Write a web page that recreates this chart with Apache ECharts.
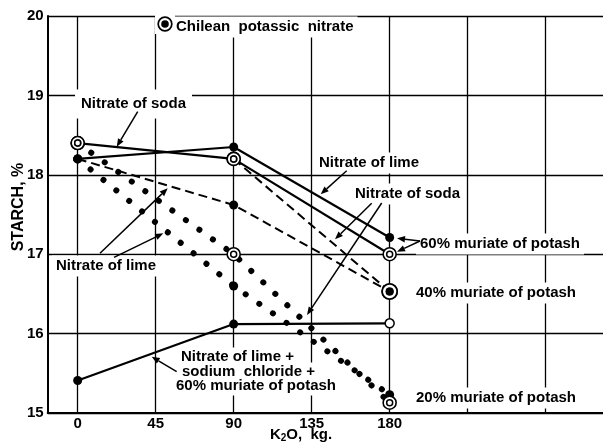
<!DOCTYPE html>
<html>
<head>
<meta charset="utf-8">
<script src="https://cdn.jsdelivr.net/npm/echarts@6/dist/echarts.min.js"></script>
<style>
  html, body { margin: 0; padding: 0; background: #fff; }
  #chart { width: 603px; height: 442px; }
</style>
</head>
<body>
<div id="chart"></div>
<script>
// K2O applied, kg per unit area
const k2oRates = [0, 90, 180];
const xTickLabels = [0, 45, 90, 135, 180];
const xGridValues = [0, 45, 90, 135, 180, 225, 270];
const yTickLabels = [15, 16, 17, 18, 19, 20];

// Starch, %  (solid lines: 60% muriate of potash)
const sodaMuriate60 = [18.4, 18.2, 17.0];
const limeMuriate60 = [18.2, 18.35, 17.21];
// dashed lines: 40% muriate of potash
const sodaMuriate40 = [null, 18.2, 16.53];
const limeMuriate40 = [18.2, 17.62, 16.53];
// dotted lines: 20% muriate of potash
const sodaMuriate20 = [18.4, 17.0, 15.13];
const limeMuriate20 = [18.2, 16.6, 15.23];
// nitrate of lime + sodium chloride + 60% muriate of potash
const limeSaltMuriate60 = [15.41, 16.12, 16.13];

const FONT = '"Liberation Sans", Arial, sans-serif';
const INK = '#000';

const SOLID = { color: INK, type: 'solid', width: 2.2 };
const DASHED = { color: INK, type: [9, 5], width: 2 };
const DOTTED = { color: INK, type: [0.1, 16.5], width: 6, cap: 'round' };

// each curve: values, line style and marker kind per point
const curves = [
  { name: 'Nitrate of soda 20%', values: sodaMuriate20, line: DOTTED, marks: ['ring', 'ring', 'ring'] },
  { name: 'Nitrate of lime 20%', values: limeMuriate20, line: DOTTED, marks: ['dot', 'dot', 'dot'] },
  { name: 'Nitrate of soda 40%', values: sodaMuriate40, line: DASHED, marks: [null, 'ring', 'chilean'] },
  { name: 'Nitrate of lime 40%', values: limeMuriate40, line: DASHED, marks: ['dot', 'dot', 'chilean'] },
  { name: 'Nitrate of soda 60%', values: sodaMuriate60, line: SOLID, marks: ['ring', 'ring', 'ring'] },
  { name: 'Nitrate of lime 60%', values: limeMuriate60, line: SOLID, marks: ['dot', 'dot', 'dot'] },
  { name: 'Nitrate of lime + NaCl 60%', values: limeSaltMuriate60, line: SOLID, marks: ['dot', 'dot', 'open'] }
];

const lineSeries = curves.map(c => ({
  name: c.name,
  type: 'line',
  data: k2oRates.map((k, i) => [k, c.values[i] == null ? '-' : c.values[i]]),
  symbol: 'none',
  lineStyle: c.line,
  silent: true,
  z: 2
}));

// collect marker points by kind
const markPts = { dot: [], ring: [], chilean: [], open: [] };
curves.forEach(c => {
  k2oRates.forEach((k, i) => {
    const kind = c.marks[i];
    if (kind && c.values[i] != null) markPts[kind].push([k, c.values[i]]);
  });
});

function scatter(data, size, fill, border, z) {
  return {
    type: 'scatter', data, symbol: 'circle', symbolSize: size, silent: true, z,
    itemStyle: { color: fill, borderColor: INK, borderWidth: border, opacity: 1 }
  };
}

const markerSeries = [
  scatter(markPts.dot, 9, INK, 0, 4),
  scatter(markPts.ring, 13, '#fff', 1.6, 4),
  scatter(markPts.ring, 6, '#fff', 1.5, 5),
  scatter(markPts.chilean, 15, '#fff', 1.7, 4),
  scatter(markPts.chilean, 8, INK, 0, 5),
  scatter(markPts.open, 9, '#fff', 1.5, 4)
];

// annotation helpers
function label(text, x, y, pad) {
  const p = pad || [3, 4];
  return {
    type: 'text', z: 20,
    style: {
      text, x: x - p[1], y, fill: INK, fontFamily: FONT, fontWeight: 'bold', fontSize: 15,
      verticalAlign: 'middle', align: 'left', backgroundColor: '#fff', padding: p
    }
  };
}

function arrow(x1, y1, x2, y2) {
  const a = Math.atan2(y2 - y1, x2 - x1), L = 8, W = 3.2;
  const bx = x2 - L * Math.cos(a), by = y2 - L * Math.sin(a);
  return [
    { type: 'line', z: 21, shape: { x1, y1, x2: bx, y2: by }, style: { stroke: INK, lineWidth: 1.5 } },
    { type: 'polygon', z: 21, shape: { points: [[x2, y2],
      [bx - W * Math.sin(a), by + W * Math.cos(a)],
      [bx + W * Math.sin(a), by - W * Math.cos(a)]] }, style: { fill: INK } }
  ];
}

const graphics = [
  // key symbol for Chilean potassic nitrate
  { type: 'rect', z: 19, shape: { x: 155, y: 12, width: 20, height: 22 }, style: { fill: '#fff' } },
  { type: 'circle', z: 21, shape: { cx: 165, cy: 24, r: 6.8 }, style: { fill: '#fff', stroke: INK, lineWidth: 1.7 } },
  { type: 'circle', z: 22, shape: { cx: 165, cy: 24, r: 3.8 }, style: { fill: INK } },
  label('Chilean  potassic  nitrate', 176, 27),

  label('Nitrate of soda', 81, 104, [7, 6]),
  ...arrow(137.7, 111.7, 116.7, 146.7),

  label('Nitrate of lime', 319, 163),
  ...arrow(346.7, 170.7, 320.7, 194.3),

  label('Nitrate of soda', 355, 194),
  ...arrow(371.7, 203.3, 335, 239.3),
  ...arrow(381.7, 203, 307, 315),

  label('Nitrate of lime', 56, 266),
  ...arrow(100, 253.3, 167.7, 188.3),
  ...arrow(114, 257.3, 163.3, 233.3),

  label('60% muriate of potash', 420, 244),
  ...arrow(420, 241, 397, 238.3),
  ...arrow(420, 241, 397, 251.7),
  label('40% muriate of potash', 416, 293),
  label('20% muriate of potash', 416, 398),

  label('Nitrate of lime +', 181, 357, [2, 4]),
  label('sodium  chloride +', 182, 372, [2, 4]),
  label('60% muriate of potash', 176, 386, [2, 4]),
  ...arrow(176.7, 371.7, 151.7, 356.7),

  // axis titles
  {
    type: 'text', z: 20, x: 19, y: 207, rotation: Math.PI / 2,
    style: { text: 'STARCH, %', fill: INK, fontFamily: FONT, fontWeight: 'bold', fontSize: 16,
      align: 'center', verticalAlign: 'middle' }
  },
  {
    type: 'text', z: 20,
    style: {
      text: '{a|K}{s|2}{a|O,  kg.}', x: 301, y: 435, align: 'center', verticalAlign: 'middle',
      rich: {
        a: { fontFamily: FONT, fontWeight: 'bold', fontSize: 15, fill: INK },
        s: { fontFamily: FONT, fontWeight: 'bold', fontSize: 10, fill: INK, padding: [6, 0, 0, 0] }
      }
    }
  }
];

const chart = echarts.init(document.getElementById('chart'), null, { renderer: 'canvas' });
chart.setOption({
  animation: false,
  backgroundColor: '#fff',
  grid: { left: 47.7, top: 16, right: 0, bottom: 29, containLabel: false },
  xAxis: {
    type: 'value', min: -17.3, max: 303.1,
    axisLine: { show: true, onZero: false, lineStyle: { color: INK, width: 2 } },
    axisTick: { show: false, customValues: xGridValues },
    axisLabel: {
      customValues: xTickLabels, color: INK, fontFamily: FONT, fontWeight: 'bold', fontSize: 15, margin: 3
    },
    splitLine: { show: true, lineStyle: { color: INK, width: 1.3 } }
  },
  yAxis: {
    type: 'value', min: yTickLabels[0], max: yTickLabels[yTickLabels.length - 1], interval: 1,
    axisLine: { show: true, onZero: false, lineStyle: { color: INK, width: 2 } },
    axisTick: { show: false },
    axisLabel: { color: INK, fontFamily: FONT, fontWeight: 'bold', fontSize: 15, margin: 4 },
    splitLine: { show: true, lineStyle: { color: INK, width: 1.3 } }
  },
  series: [...lineSeries, ...markerSeries],
  graphic: graphics
});
</script>
</body>
</html>
